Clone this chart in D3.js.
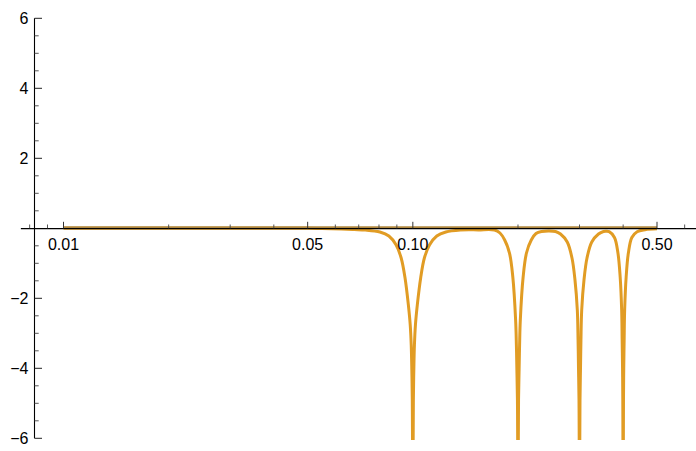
<!DOCTYPE html>
<html>
<head>
<meta charset="utf-8">
<script src="https://cdn.jsdelivr.net/npm/d3@7"></script>
<style>
  html, body { margin: 0; padding: 0; background: #fff; }
  svg { display: block; }
  text { font-family: "Liberation Sans", Arial, sans-serif; font-size: 16px; fill: #000; }
</style>
</head>
<body>
<svg id="chart" width="696" height="451"></svg>
<script>
// ---- data ----
const curveX = [
  0.01, 0.03, 0.05, 0.055, 0.0625, 0.068, 0.0731, 0.0805, 0.0854, 0.0896, 0.0926, 0.0950, 0.0971, 0.0983, 0.09895, 0.09934, 0.09964, 0.1,
  0.10036, 0.10066, 0.10106, 0.10173, 0.1030, 0.1053, 0.1079, 0.1116, 0.1171, 0.1243, 0.1368, 0.154, 0.1713, 0.1776, 0.1832, 0.1891, 0.1933, 0.1969, 0.1979, 0.19855, 0.19928, 0.2,
  0.20073, 0.20146, 0.20212, 0.2031, 0.2069, 0.2115, 0.2183, 0.2252, 0.2335, 0.245, 0.2561, 0.2647, 0.2767, 0.2855, 0.2912, 0.2957, 0.29715, 0.29803, 0.29901, 0.3,
  0.30099, 0.30198, 0.30288, 0.3044, 0.3090, 0.3152, 0.3253, 0.3400, 0.3514, 0.358, 0.3648, 0.3777, 0.3865, 0.3922, 0.3961, 0.39737, 0.39842, 0.39908, 0.4,
  0.40092, 0.40158, 0.40265, 0.4040, 0.4080, 0.4140, 0.4236, 0.4386, 0.4622, 0.5
];
const curveY = [
  0, 0, 0, -0.005, -0.02, -0.035, -0.049, -0.106, -0.22, -0.477, -0.849, -1.42, -2.19, -2.763, -3.334, -4.049, -4.906, -8,
  -4.906, -4.049, -3.334, -2.763, -2.19, -1.42, -0.849, -0.477, -0.22, -0.106, -0.049, -0.045, -0.049, -0.134, -0.334, -0.706, -1.391, -2.62, -3.334, -4.049, -4.906, -8,
  -4.906, -4.049, -3.334, -2.62, -1.391, -0.706, -0.334, -0.15, -0.09, -0.075, -0.091, -0.163, -0.391, -0.849, -1.477, -2.334, -3.191, -4.0, -4.906, -8,
  -4.906, -4.0, -3.191, -2.334, -1.477, -0.849, -0.391, -0.163, -0.091, -0.085, -0.097, -0.263, -0.706, -1.391, -2.334, -3.191, -4.0, -4.906, -8,
  -4.906, -4.0, -3.191, -2.334, -1.391, -0.706, -0.263, -0.097, -0.04, -0.015
];
const zeroX = [0.01, 0.5];
const zeroY = [0, 0];

const xTickMajor = [0.01, 0.05, 0.1, 0.5];
const xTickLabels = ["0.01", "0.05", "0.10", "0.50"];
const xTickMinor = [0.008, 0.009, 0.02, 0.03, 0.04, 0.06, 0.07, 0.08, 0.09, 0.2, 0.3, 0.4, 0.6];
const yTickMajor = [-6, -4, -2, 2, 4, 6];
const yTickLabels = ["\u22126", "\u22124", "\u22122", "2", "4", "6"];
const yTickMinor = [-5.5, -5, -4.5, -3.5, -3, -2.5, -1.5, -1, -0.5, 0.5, 1, 1.5, 2.5, 3, 3.5, 4.5, 5, 5.5];
const xAxisExtent = [0.00755, 0.647];
const yAxisExtent = [-6, 6];

// ---- scales ----
const svg = d3.select("#chart");
const x = d3.scaleLog().domain([0.01, 0.5]).range([63.5, 657]);
const y = d3.scaleLinear().domain([-6, 6]).range([438.3, 18.3]);
const yAxisX = 34.5;

const orange = "#E19C24";

svg.append("defs").append("clipPath").attr("id", "clip")
  .append("rect").attr("x", 0).attr("y", 0).attr("width", 696).attr("height", 440);

// main curve
const curveData = curveX.map((d, i) => [d, curveY[i]]);
svg.append("path")
  .datum(curveData)
  .attr("clip-path", "url(#clip)")
  .attr("fill", "none")
  .attr("stroke", orange)
  .attr("stroke-width", 3)
  .attr("stroke-linejoin", "round")
  .attr("d", d3.line().x(d => x(d[0])).y(d => y(d[1])).curve(d3.curveCatmullRom.alpha(0.5)));

// zero series (drawn on top of the curve)
const zeroData = zeroX.map((d, i) => [d, zeroY[i]]);
svg.append("path")
  .datum(zeroData)
  .attr("fill", "none")
  .attr("stroke", "#b08840")
  .attr("stroke-width", 2.6)
  .attr("d", d3.line().x(d => x(d[0])).y(d => y(d[1]) - 0.8));

// axes
const ax = svg.append("g");
ax.append("line")
  .attr("x1", x(xAxisExtent[0])).attr("x2", x(xAxisExtent[1]))
  .attr("y1", y(0) + 0.3).attr("y2", y(0) + 0.3)
  .attr("stroke", "#000").attr("stroke-width", 1.1);
ax.append("line")
  .attr("x1", yAxisX).attr("x2", yAxisX)
  .attr("y1", y(yAxisExtent[1])).attr("y2", y(yAxisExtent[0]))
  .attr("stroke", "#000").attr("stroke-width", 1.1);

// x ticks (pointing up)
ax.selectAll(".xmaj").data(xTickMajor).join("line")
  .attr("x1", d => x(d)).attr("x2", d => x(d))
  .attr("y1", y(0)).attr("y2", y(0) - 6.5)
  .attr("stroke", "#333").attr("stroke-width", 1);
ax.selectAll(".xmin").data(xTickMinor).join("line")
  .attr("x1", d => x(d)).attr("x2", d => x(d))
  .attr("y1", y(0)).attr("y2", y(0) - 3.8)
  .attr("stroke", "#444").attr("stroke-width", 0.9);
ax.selectAll(".xlab").data(xTickMajor).join("text")
  .attr("x", d => x(d)).attr("y", 250)
  .attr("text-anchor", "middle")
  .text((d, i) => xTickLabels[i]);

// y ticks (pointing right)
ax.selectAll(".ymaj").data(yTickMajor).join("line")
  .attr("x1", yAxisX).attr("x2", yAxisX + 7.5)
  .attr("y1", d => y(d)).attr("y2", d => y(d))
  .attr("stroke", "#222").attr("stroke-width", 1);
ax.selectAll(".ymin").data(yTickMinor).join("line")
  .attr("x1", yAxisX).attr("x2", yAxisX + 4.2)
  .attr("y1", d => y(d)).attr("y2", d => y(d))
  .attr("stroke", "#444").attr("stroke-width", 0.9);
ax.selectAll(".ylab").data(yTickMajor).join("text")
  .attr("x", 28.5).attr("y", d => y(d) + 5.8)
  .attr("text-anchor", "end")
  .text((d, i) => yTickLabels[i]);
</script>
</body>
</html>
